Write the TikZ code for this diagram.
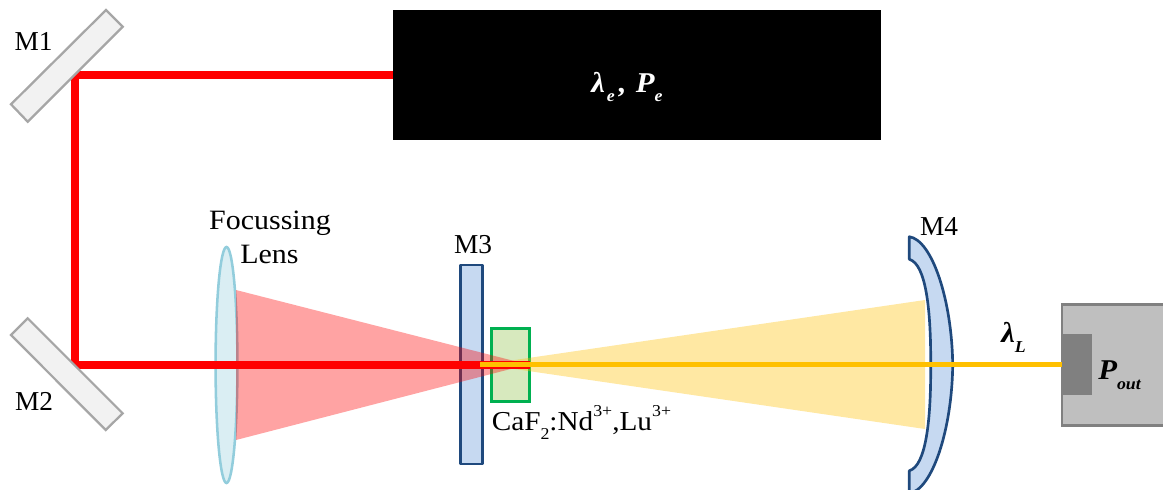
\documentclass[tikz,border=0pt]{standalone}
\usepackage{fontspec}
\setmainfont[FakeStretch=1.07]{Liberation Serif}
\newfontfamily\narrowfont{Liberation Serif}
\newcommand{\lab}{\fontsize{21pt}{25pt}\selectfont}
\newcommand{\mlab}{\fontsize{20.5pt}{25pt}\selectfont\narrowfont}
\newcommand{\mathlab}{\fontsize{21.5pt}{25pt}\selectfont\bfseries\itshape}
\newcommand{\subdown}[2]{\raisebox{#1}{\fontsize{12.5pt}{14pt}\selectfont #2}}
\definecolor{mirrorfill}{HTML}{F2F2F2}
\definecolor{mirrorline}{HTML}{A6A6A6}
\definecolor{lensfill}{HTML}{DAEEF3}
\definecolor{lensline}{HTML}{92CDDC}
\definecolor{bluefill}{HTML}{C6D9F1}
\definecolor{blueline}{HTML}{1F497D}
\definecolor{xtalfill}{HTML}{D7E9BE}
\definecolor{xtalline}{HTML}{00B050}
\definecolor{beamyellow}{HTML}{FFC000}
\tikzset{
  px/.style={x=.75pt,y=-.75pt},
  boxnode/.style={inner sep=0pt,outer sep=0pt,anchor=north west},
  mirror/.style={draw=mirrorline,fill=mirrorfill,line width=1.7pt,line join=miter},
  optic/.style={draw=blueline,fill=bluefill,line width=2pt,line join=round},
  redbeam/.style={draw=red,line width=6pt,line join=miter},
  yellowbeam/.style={draw=beamyellow,line width=3.2pt},
  txt/.style={inner sep=0pt,anchor=base west,text=black},
  txtc/.style={inner sep=0pt,anchor=base,text=black}
}
\begin{document}
\begin{tikzpicture}[px]
\useasboundingbox (0,0) rectangle (1163,489);
\clip (0,0) rectangle (1163,489);
% source
\node[boxnode,fill=black,minimum width=366pt,minimum height=97.5pt] (laser) at (393,10) {};
% lens and M3, crystal
\draw[draw=lensline,fill=lensfill,line width=1.9pt] (226.5,365) ellipse [x radius=8.2pt,y radius=88.5pt];
\node[boxnode,optic,minimum width=16.2pt,minimum height=149.2pt] (m3) at (460.7,265) {};
\node[boxnode,draw=xtalline,fill=xtalfill,line width=2pt,minimum width=28.8pt,minimum height=54.8pt] (xtal) at (491.3,328.3) {};
% detector
\node[boxnode,draw=black!50,fill=black!25,line width=2pt,minimum width=110pt,minimum height=91pt] (det) at (1062,304.3) {};
\fill[black!50] (1062,334) rectangle (1092,395);
% cones
\fill[red,opacity=.36] (236,290) -- (528,364.5) -- (236,440) -- cycle;
\fill[beamyellow,opacity=.36] (925,300) -- (484,364.5) -- (925,429) -- cycle;
% M4
\draw[optic] (909.3,236.7) .. controls (932,240) and (952,300) .. (952.7,365)
  .. controls (952,430) and (932,490) .. (909.3,493.3) -- (909.3,470.7)
  .. controls (926,466) and (931,420) .. (930.7,365)
  .. controls (931,310) and (926,264) .. (909.3,259.3) -- cycle;
% beams
\coordinate (a) at (393,74.5);
\coordinate (b) at (75,74.5);
\coordinate (c) at (75,364.5);
\coordinate (d) at (529.7,364.5);
\coordinate (e) at (480,364.5);
\draw[redbeam] (laser.west |- a) -- (b) -- (c) -- (d);
\draw[yellowbeam] (e) -- (det.west |- e);
% mirrors
\draw[mirror] (106,10) -- (122.7,26.7) -- (27.7,121.7) -- (11,104.3) -- cycle;
\draw[mirror] (27.7,318.3) -- (11,335) -- (105.7,430) -- (122.7,413.3) -- cycle;
% labels
\node[txtc] (lm1) at (33.5,50) {\mlab M1};
\node[txtc] (lm2) at (34,410) {\mlab M2};
\node[txtc] (lm3) at (473,253) {\mlab M3};
\node[txtc] (lm4) at (939,235) {\mlab M4};
\node[txtc] (lf1) at (270,229) {\lab Focussing};
\node[txtc] (lf2) at (269.5,263) {\lab Lens};
\node[txt] (lx) at (491.5,430) {\fontsize{20.5pt}{25pt}\selectfont CaF\subdown{-7pt}{2}:Nd\subdown{10.5pt}{3+},Lu\subdown{10.5pt}{3+}};
\node[txt,text=white] (le) at (591,92) {\mathlab λ\kern1.5pt\subdown{-7pt}{e}\kern3pt,\kern7pt P\subdown{-7pt}{e}};
\node[txt] (ll) at (1001,342.7) {\mathlab λ\subdown{-7.5pt}{L}};
\node[txt] (lp) at (1098,379) {\mathlab P\subdown{-8pt}{out}};
\end{tikzpicture}
\end{document}
